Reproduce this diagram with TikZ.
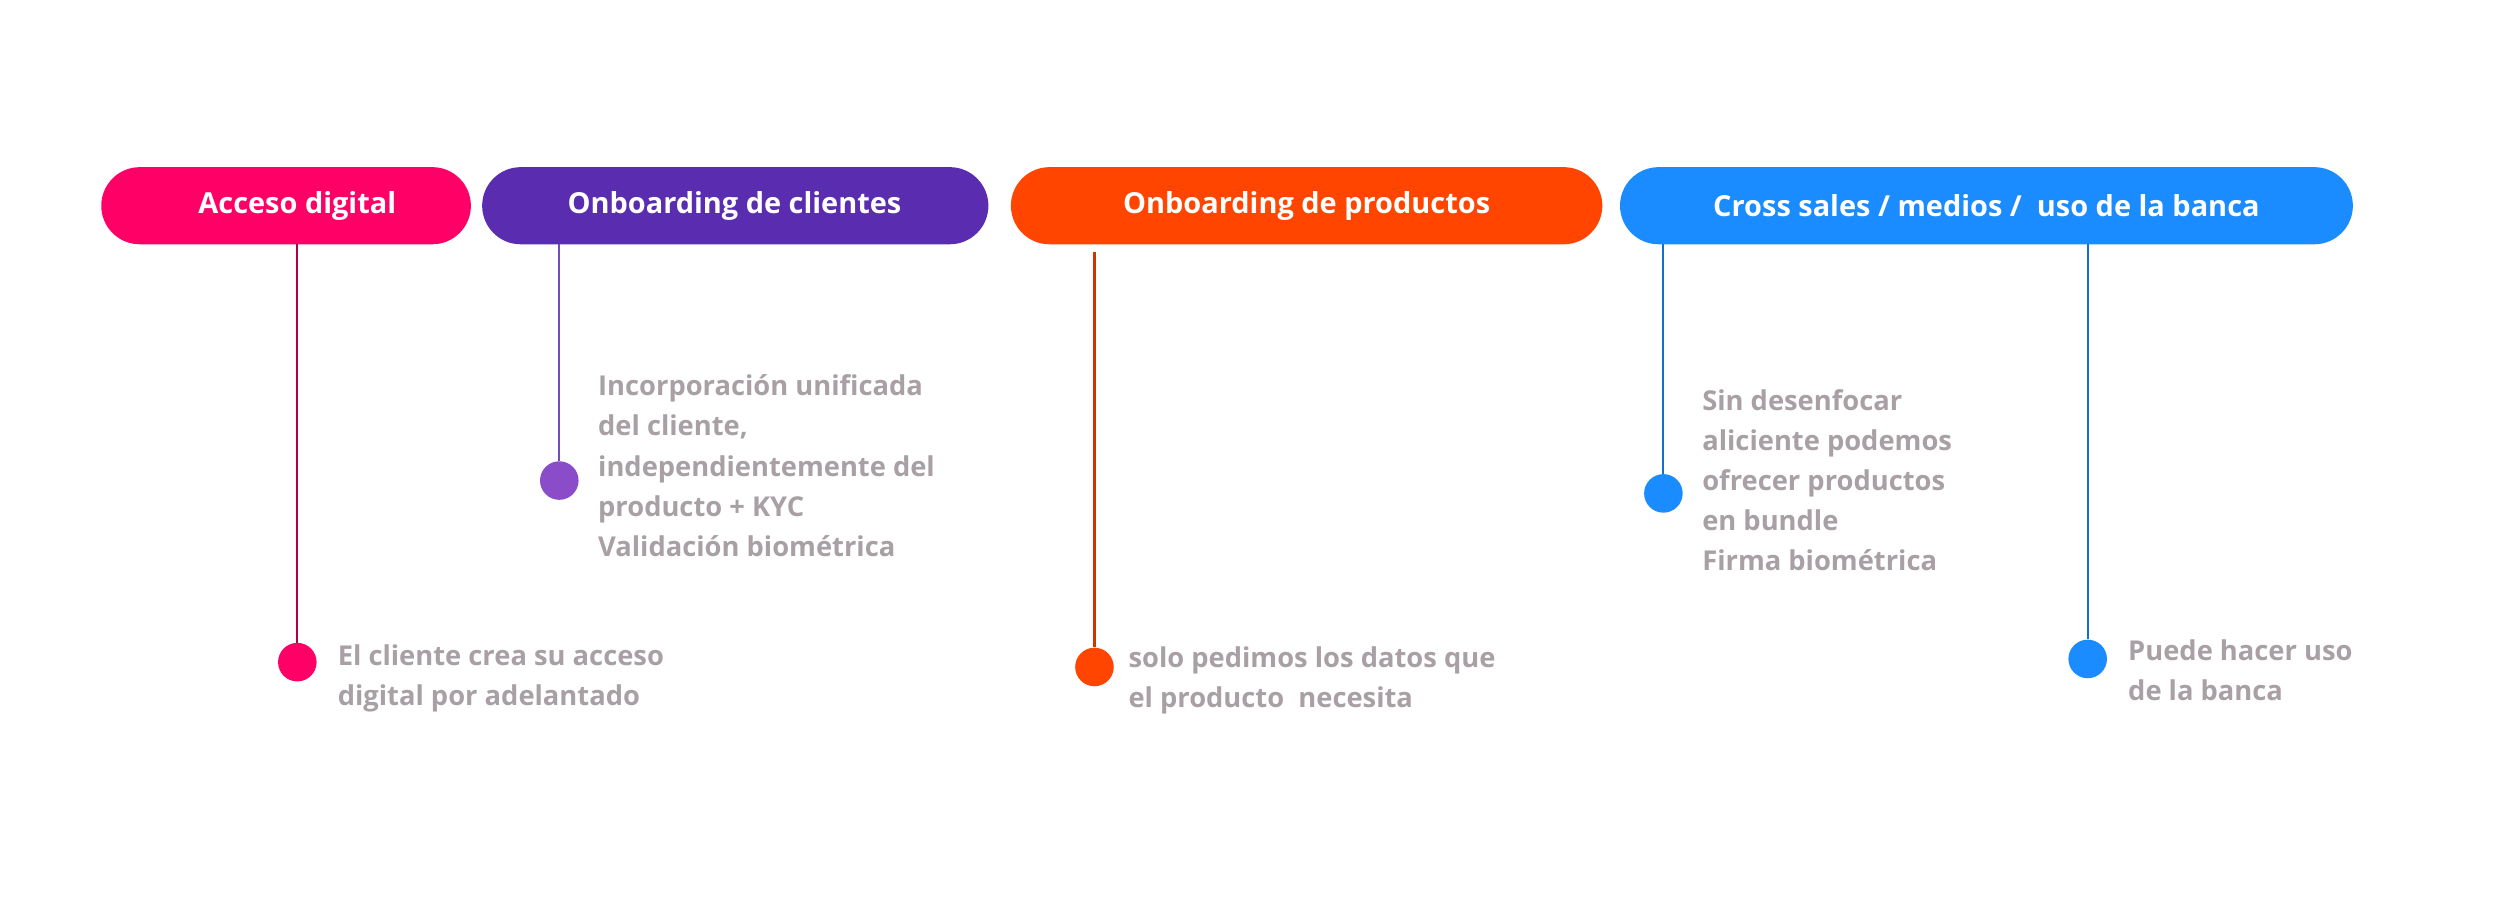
\documentclass[tikz,border=0pt]{standalone}
\usepackage{fontspec}
\setmainfont{Open Sans}
\definecolor{cmag}{HTML}{FF0066}
\definecolor{cpur}{HTML}{5A2DB0}
\definecolor{cora}{HTML}{FF4500}
\definecolor{cblu}{HTML}{1A8CFF}
\definecolor{cdotp}{HTML}{8A4CC8}
\definecolor{ctxt}{HTML}{A9A0A5}
\begin{document}
\begin{tikzpicture}[x=1pt,y=-1pt,
  pill/.style={rounded corners=24pt,text=white,font=\fontsize{18}{22}\selectfont\bfseries,inner sep=0pt},
  dot/.style={circle,inner sep=0pt,minimum size=24pt},
  desc/.style={anchor=north west,text=ctxt,font=\fontsize{17}{25}\selectfont\bfseries,align=left,inner sep=0pt},
  conn/.style={line width=1.3pt}]
\useasboundingbox[fill=white] (0,0) rectangle (1568,560);
\fill[cmag,rounded corners=24pt] (63,104) rectangle (293,152);
\node[text=white,font=\fontsize{18}{22}\selectfont\bfseries] (p1) at (185,128) {Acceso digital};
\fill[cpur,rounded corners=24pt] (300,104) rectangle (615,152);
\node[text=white,font=\fontsize{18}{22}\selectfont\bfseries] (p2) at (457,128) {Onboarding de clientes};
\fill[cora,rounded corners=24pt] (629,104) rectangle (997,152);
\node[text=white,font=\fontsize{18}{22}\selectfont\bfseries] (p3) at (813,128) {Onboarding de productos};
\fill[cblu,rounded corners=24pt] (1008,104) rectangle (1464,152);
\node[text=white,font=\fontsize{18}{22}\selectfont\bfseries] (p4) at (1236,128) {Cross sales / medios /\ \ uso de la banca};

\coordinate (t1) at (185,152); \node[dot,fill=cmag] (d1) at (185,412) {};
\coordinate (t2) at (348,152); \node[dot,fill=cdotp] (d2) at (348,299) {};
\coordinate (t3) at (681,157); \node[dot,fill=cora] (d3) at (681,415) {};
\coordinate (t4) at (1035,152); \node[dot,fill=cblu] (d4) at (1035,307) {};
\coordinate (t5) at (1299,152); \node[dot,fill=cblu] (d5) at (1299,410) {};
\draw[conn,draw=cmag!70!black] (t1) -- (d1);
\draw[conn,draw=cpur!85] (t2) -- (d2);
\draw[conn,draw=cora!80!black] (t3) -- (d3);
\draw[conn,draw=cblu!80!black] (t4) -- (d4);
\draw[conn,draw=cblu!80!black] (t5) -- (d5);

\node[desc] (x1) at (210,401) {El cliente crea su acceso\\digital por adelantado};
\node[desc] (x2) at (372,233) {Incorporación unificada\\del cliente,\\independientemente del\\producto + KYC\\Validación biométrica};
\node[desc] (x3) at (702,402) {solo pedimos los datos que\\el producto\ \ necesita};
\node[desc] (x4) at (1059,242) {Sin desenfocar\\aliciente podemos\\ofrecer productos\\en bundle\\Firma biométrica};
\node[desc] (x5) at (1324,398) {Puede hacer uso\\de la banca};
\end{tikzpicture}
\end{document}
